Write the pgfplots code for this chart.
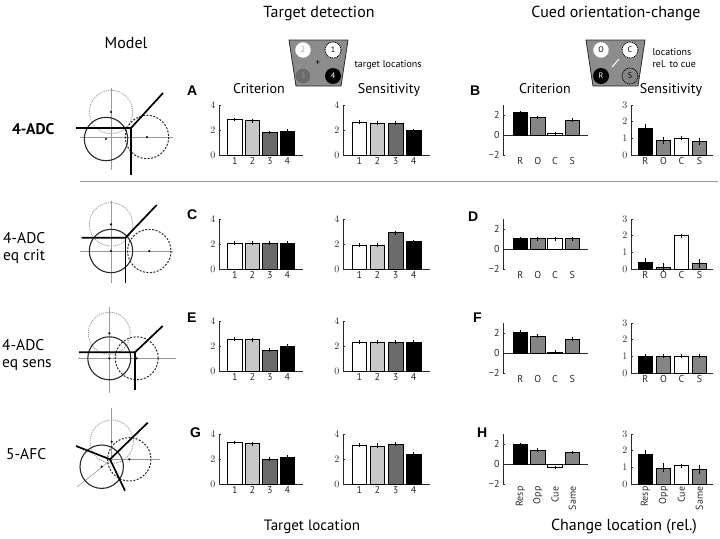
\documentclass[border=0pt]{standalone}
\usepackage{fontspec}
\setmainfont{PT Sans}
\newfontfamily\letterfont{Liberation Sans}
\usepackage{pgfplots}
\pgfplotsset{compat=1.18}
\definecolor{lg}{HTML}{C8C8C8}
\definecolor{dg}{HTML}{6B6B6B}
\definecolor{mg}{HTML}{858585}
\definecolor{axc}{HTML}{2A2A2A}
\definecolor{cg}{HTML}{9A9A9A}
\definecolor{icon}{HTML}{8C8C8C}

\pgfplotsset{
  base/.style={
    scale only axis, height=50pt, anchor=south west,
    axis y line=left, axis x line=bottom,
    axis line style={axc, line width=0.8pt, -},
    tick align=inside, major tick length=2pt,
    ytick style={axc, line width=0.6pt},
    xtick style={draw=none},
    xtick={1,2,3,4},
    tick label style={font=\fontsize{10}{10}\selectfont, text=axc},
    xticklabel style={yshift=1pt},
    clip=false,
  },
  tgt/.style={base, xmin=0.1, xmax=4.9, ymin=0, ymax=4, ytick={0,2,4}, xticklabels={1,2,3,4}},
  tc/.style={tgt, width=84pt},
  ts/.style={tgt, width=87pt},
  cc/.style={base, width=85pt, xmin=0, xmax=4.9, ymin=-2, ymax=3, ytick={-2,0,2}, yticklabels={−2,0,2},
     x axis line style={draw=none}, xticklabels={R,O,C,S}},
  cs/.style={base, width=82pt, xmin=0.2, xmax=4.75, ymin=0, ymax=3, ytick={0,1,2,3}, xticklabels={R,O,C,S}},
}
\newcommand\bb[4]{\addplot[ybar, bar width=14.5pt, bar shift=0pt, fill=#1, draw=black, line width=0.6pt,
  error bars/.cd, y dir=both, y explicit, error bar style={black, line width=0.8pt},
  error mark options={black, mark size=1.3pt, line width=0.8pt}] coordinates {(#2,#3) +- (0,#4)};}
\newcommand\zl{\addplot[axc, line width=0.8pt] coordinates {(0,0) (4.9,0)};}
\newcommand\tfs{\fontsize{14}{15}\selectfont}

\begin{document}
\begin{tikzpicture}
\useasboundingbox (0,0) rectangle (720pt,-538pt);

% ---------- headings ----------
\begin{scope}[x=1pt,y=-1pt]
\node[anchor=base, font=\fontsize{16}{17}\selectfont] at (126,48) {Model};
\node[anchor=base, font=\fontsize{16}{17}\selectfont] at (319,17) {Target detection};
\node[anchor=base, font=\fontsize{16}{17}\selectfont] at (616,17) {Cued orientation-change};

% target icon
\fill[icon, draw=axc, line width=0.8pt] (289,40) -- (348,40) -- (341,86) -- (296,86) -- cycle;
\draw[cg, fill=white, dash pattern=on 1pt off 0.8pt, line width=0.8pt] (303,50) circle (8);
\node[font=\fontsize{8}{8}\selectfont, text=cg] at (303,50) {2};
\draw[black, fill=white, dash pattern=on 1pt off 0.8pt, line width=0.8pt] (333,50) circle (8);
\node[font=\fontsize{8}{8}\selectfont] at (333,50) {1};
\draw[cg, fill=dg, dash pattern=on 1pt off 0.8pt, line width=0.8pt] (303,76) circle (8);
\node[font=\fontsize{8}{8}\selectfont, text=cg] at (303,76) {3};
\fill[black] (333,76) circle (8);
\node[font=\fontsize{8}{8}\selectfont, text=white] at (333,76) {4};
\node[font=\fontsize{9}{9}\selectfont] at (318,63) {+};
\node[anchor=west, font=\fontsize{10}{11}\selectfont] at (351,65) {target locations};

% cued icon
\fill[icon, draw=axc, line width=0.8pt] (586,40) -- (645,40) -- (638,86) -- (593,86) -- cycle;
\draw[cg, fill=white, dash pattern=on 1pt off 0.8pt, line width=0.8pt] (601,50) circle (8);
\node[font=\fontsize{8}{8}\selectfont] at (601,50) {O};
\draw[black, fill=white, dash pattern=on 1pt off 0.8pt, line width=0.8pt] (630,50) circle (8);
\node[font=\fontsize{8}{8}\selectfont] at (630,50) {C};
\fill[black] (601,76) circle (8);
\node[font=\fontsize{8}{8}\selectfont, text=white] at (601,76) {R};
\draw[black, fill=mg, dash pattern=on 1pt off 0.8pt, line width=0.8pt] (630,76) circle (8);
\node[font=\fontsize{8}{8}\selectfont] at (630,76) {S};
\draw[white, line width=1pt] (612,67) -- (619,59);
\node[anchor=west, align=left, font=\fontsize{10}{12}\selectfont] at (649,58) {locations\\rel. to cue};

% subplot titles
\node[anchor=base, font=\tfs] at (259,93) {Criterion};
\node[anchor=base, font=\tfs] at (389,93) {Sensitivity};
\node[anchor=base, font=\tfs] at (545,93) {Criterion};
\node[anchor=base, font=\tfs] at (671,93) {Sensitivity};

% panel letters
\begin{scope}[every node/.style={anchor=base west, inner sep=0pt, font=\letterfont\bfseries\fontsize{14}{14}\selectfont}]
\node at (187,95) {A};
\node at (470,95) {B};
\node at (187,219) {C};
\node at (468,221) {D};
\node at (187,322) {E};
\node at (473,322) {F};
\node at (190,437) {G};
\node at (477,437) {H};
\end{scope}

% row labels
\begin{scope}[every node/.style={anchor=north west, inner sep=0pt, align=left, font=\fontsize{15.5}{17}\selectfont}]
\node at (12,123) {\bfseries 4-ADC};
\node at (3,232) {4-ADC\\eq crit};
\node at (2,339) {4-ADC\\eq sens};
\node at (6,448) {5-AFC};
\end{scope}

% separator
\draw[cg, line width=0.8pt] (80,181) -- (718,181);

% bottom labels
\node[anchor=base, font=\fontsize{15}{16}\selectfont] at (312,530) {Target location};
\node[anchor=base, font=\fontsize{16}{17}\selectfont] at (624,530) {Change location (rel.)};

% ---------- model diagrams ----------
\tikzset{cross/.style={cg, line width=0.6pt},
  gcirc/.style={cg, line width=0.8pt, dash pattern=on 1.2pt off 1pt},
  scirc/.style={axc, line width=1.1pt},
  dcirc/.style={axc, line width=1pt, dash pattern=on 2pt off 1.5pt},
  thick/.style={black, line width=1.7pt}}
% row 1
\draw[cross] (111,88) -- (111,170); \draw[cross] (80,137) -- (173,137);
\draw[gcirc] (111,112) circle (21.7);
\draw[scirc] (106,139) circle (21.7);
\draw[dcirc] (147,137) circle (21.7);
\fill (111,112) circle (1.2); \fill (106,139) circle (1.2); \fill (147,137) circle (1.2);
\draw[thick] (76,128) -- (131,128) -- (163,93); \draw[thick] (131,128) -- (131,175);
% row 2
\draw[cross] (111,200.7) -- (111,283); \draw[cross] (80,251) -- (173,251);
\draw[gcirc] (111,224.3) circle (21.7);
\draw[scirc] (111,251) circle (21.7);
\draw[dcirc] (149.3,251) circle (21.7);
\fill (111,224.3) circle (1.2); \fill (111,251) circle (1.2); \fill (149.3,251) circle (1.2);
\draw[thick] (81.7,237.7) -- (125.5,237.7) -- (156.7,205); \draw[thick] (125.5,237.7) -- (125.5,283);
% row 3
\draw[cross] (109.3,306.7) -- (109.3,393); \draw[cross] (78,358.3) -- (176,358.3);
\draw[gcirc] (109.3,333.3) circle (21);
\draw[scirc] (109.3,358.3) circle (21.5);
\draw[dcirc] (136.7,358.3) circle (21.5);
\fill (109.3,333.3) circle (1.2); \fill (109.3,358.3) circle (1.2); \fill (136.7,358.3) circle (1.2);
\draw[thick] (79,352.3) -- (135,352.3) -- (162.7,326); \draw[thick] (135,352.3) -- (135,390);
% row 4
\draw[cross] (111.7,408) -- (111.7,459.3) -- (160,459.3); \draw[cross] (111.7,459.3) -- (77.3,486.7);
\draw[gcirc] (111.7,441.7) circle (21.7);
\draw[scirc] (101.7,466.7) circle (21.7);
\draw[dcirc] (129.3,459.3) circle (21.7);
\fill (111.7,441.7) circle (1.2); \fill (129.3,459.3) circle (1.2); \fill (101.7,466.7) circle (1.2);
\draw[thick] (76,446) -- (110,459.3) -- (147.7,422.7); \draw[thick] (110,459.3) -- (125,490.7);
\end{scope}

% ---------- row A/B ----------
\begin{axis}[tc, at={(219pt,-155pt)}]
\bb{white}{1}{2.83}{0.04}\bb{lg}{2}{2.75}{0.06}\bb{dg}{3}{1.79}{0.04}\bb{black}{4}{1.92}{0.04}
\end{axis}
\begin{axis}[ts, at={(343pt,-155pt)}]
\bb{white}{1}{2.62}{0.06}\bb{lg}{2}{2.55}{0.06}\bb{dg}{3}{2.55}{0.06}\bb{black}{4}{1.97}{0.03}
\end{axis}
\begin{axis}[cc, at={(503pt,-155pt)}]
\zl\bb{black}{1}{2.25}{0.04}\bb{mg}{2}{1.75}{0.06}\bb{white}{3}{0.15}{0.05}\bb{mg}{4}{1.48}{0.05}
\end{axis}
\begin{axis}[cs, at={(631pt,-155pt)}]
\bb{black}{1}{1.63}{0.15}\bb{mg}{2}{0.88}{0.15}\bb{white}{3}{1.03}{0.05}\bb{mg}{4}{0.82}{0.15}
\end{axis}

% ---------- row C/D ----------
\begin{axis}[tc, at={(219pt,-269pt)}]
\bb{white}{1}{2.08}{0.05}\bb{lg}{2}{2.07}{0.05}\bb{dg}{3}{2.07}{0.05}\bb{black}{4}{2.06}{0.05}
\end{axis}
\begin{axis}[ts, at={(343pt,-269pt)}]
\bb{white}{1}{1.9}{0.05}\bb{lg}{2}{1.92}{0.06}\bb{dg}{3}{2.9}{0.05}\bb{black}{4}{2.2}{0.05}
\end{axis}
\begin{axis}[cc, at={(503pt,-269pt)}]
\zl\bb{black}{1}{1.05}{0.05}\bb{mg}{2}{1.04}{0.06}\bb{white}{3}{1.04}{0.06}\bb{mg}{4}{1.04}{0.06}
\end{axis}
\begin{axis}[cs, at={(631pt,-269pt)}]
\bb{black}{1}{0.42}{0.18}\bb{mg}{2}{0.12}{0.15}\bb{white}{3}{2.0}{0.05}\bb{mg}{4}{0.33}{0.18}
\end{axis}

% ---------- row E/F ----------
\begin{axis}[tc, at={(219pt,-371pt)}]
\bb{white}{1}{2.56}{0.05}\bb{lg}{2}{2.51}{0.05}\bb{dg}{3}{1.65}{0.05}\bb{black}{4}{2.01}{0.05}
\end{axis}
\begin{axis}[ts, at={(343pt,-371pt)}]
\bb{white}{1}{2.33}{0.05}\bb{lg}{2}{2.33}{0.05}\bb{dg}{3}{2.33}{0.05}\bb{black}{4}{2.33}{0.05}
\end{axis}
\begin{axis}[cc, at={(503pt,-373pt)}]
\zl\bb{black}{1}{2.1}{0.05}\bb{mg}{2}{1.7}{0.05}\bb{white}{3}{0.12}{0.03}\bb{mg}{4}{1.42}{0.05}
\end{axis}
\begin{axis}[cs, at={(631pt,-373pt)}]
\bb{black}{1}{1.03}{0.05}\bb{mg}{2}{1.03}{0.05}\bb{white}{3}{1.03}{0.05}\bb{mg}{4}{1.03}{0.05}
\end{axis}

% ---------- row G/H ----------
\begin{axis}[tc, at={(219pt,-484pt)}]
\bb{white}{1}{3.32}{0.04}\bb{lg}{2}{3.22}{0.07}\bb{dg}{3}{2.01}{0.07}\bb{black}{4}{2.14}{0.05}
\end{axis}
\begin{axis}[ts, at={(343pt,-484pt)}]
\bb{white}{1}{3.12}{0.07}\bb{lg}{2}{3.05}{0.1}\bb{dg}{3}{3.18}{0.06}\bb{black}{4}{2.38}{0.05}
\end{axis}
\begin{axis}[cc, at={(503pt,-484pt)}, xticklabels={Resp,Opp,Cue,Same}, xticklabel style={rotate=90, anchor=east, yshift=0pt}]
\zl\bb{black}{1}{1.97}{0.03}\bb{mg}{2}{1.42}{0.07}\bb{white}{3}{-0.35}{0.06}\bb{mg}{4}{1.15}{0.06}
\end{axis}
\begin{axis}[cs, at={(631pt,-484pt)}, xticklabels={Resp,Opp,Cue,Same}, xticklabel style={rotate=90, anchor=east, yshift=0pt}]
\bb{black}{1}{1.76}{0.2}\bb{mg}{2}{0.97}{0.2}\bb{white}{3}{1.1}{0.05}\bb{mg}{4}{0.89}{0.2}
\end{axis}
\end{tikzpicture}
\end{document}
